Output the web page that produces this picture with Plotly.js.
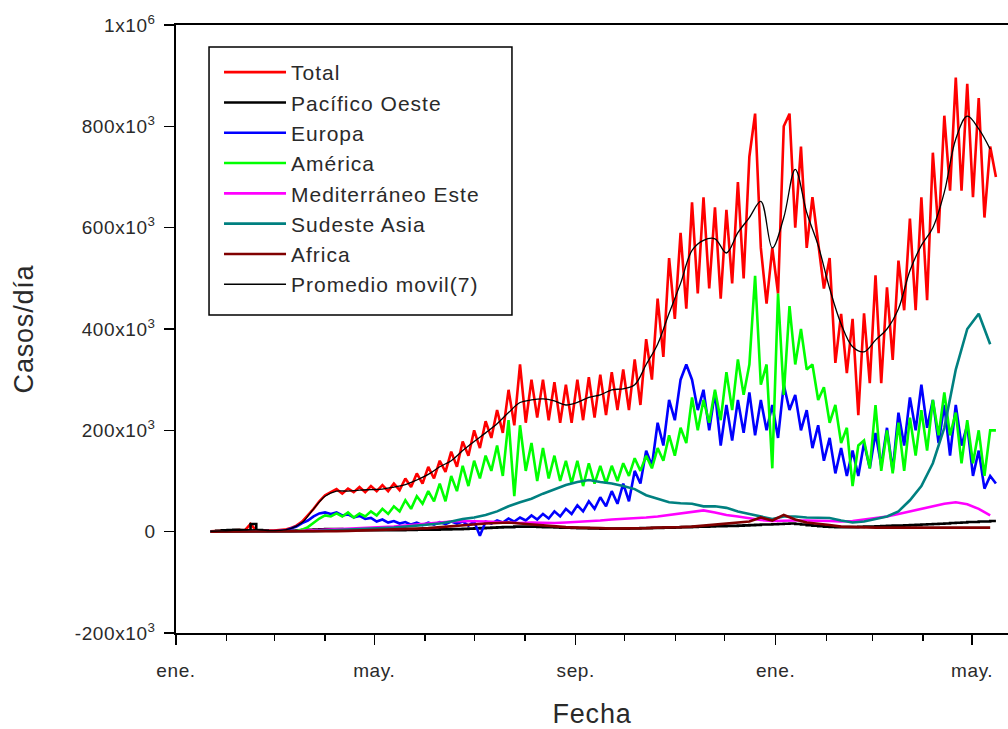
<!DOCTYPE html>
<html lang="es">
<head>
<meta charset="UTF-8">
<title>Casos/día por región OMS</title>
<script src="https://cdn.plot.ly/plotly-3.0.1.min.js"></script>
<style>
  html, body { margin: 0; padding: 0; background: #fff; }
  #plot { width: 1008px; height: 729px; }
  #plot .legendtext { letter-spacing: 1px; }
  #plot .legend .scrollbox { clip-path: none !important; }
  #plot .xtick text, #plot .ytick text { letter-spacing: 0.6px; }
  #plot .g-xtitle text, #plot .g-ytitle text { letter-spacing: 0.8px; }
</style>
</head>
<body>
<div id="plot"></div>
<script>
// values in thousands of cases per day
// half-week samples (every 3.5 days starting 22 Jan 2020)
const total = [
  0.6, 1, 2, 3, 3, 3, 2.5, 15, 2, 1.5,
  2, 2, 3, 4, 7, 12, 20, 32, 45, 60,
  72, 78, 84, 75, 85, 78, 88, 78, 90, 80,
  92, 80, 95, 82, 105, 88, 115, 95, 128, 105,
  140, 118, 158, 128, 178, 150, 200, 165, 218, 185,
  240, 195, 280, 210, 330, 215, 300, 225, 300, 220,
  295, 215, 290, 215, 300, 220, 305, 225, 310, 230,
  315, 240, 320, 240, 340, 250, 380, 300, 460, 345,
  540, 420, 590, 440, 650, 470, 660, 480, 640, 460,
  635, 490, 690, 500, 740, 825, 560, 450, 560, 470,
  800, 825, 600, 760, 560, 660, 575, 480, 540, 333,
  430, 313, 420, 230, 431, 293, 506, 293, 482, 339,
  535, 437, 618, 437, 660, 457, 748, 589, 821, 673,
  896, 673, 884, 660, 856, 620, 760, 700
];
const pacificoOeste = [
  0.5, 1.5, 2.5, 3, 3.5, 3, 2.5, 15, 3, 2,
  1, 1, 1, 1.5, 2, 2.5, 3, 3.5, 4, 4.5,
  5, 5, 5, 4.5, 4, 3.5, 3, 3, 3, 3,
  3, 3, 3, 3, 3.5, 3.5, 4, 4, 4, 4,
  4.5, 4.5, 5, 5, 5.5, 6, 6.5, 7, 7.5, 8,
  8.5, 9, 9, 10, 10, 10, 10, 9.5, 9, 9,
  8.5, 8, 8, 7.5, 7, 7, 6.5, 6.5, 6, 6,
  6, 6, 6, 6.5, 6.5, 7, 7, 7.5, 7.5, 8,
  8, 8.5, 9, 9, 9.5, 10, 10, 10.5, 11, 11,
  11.5, 11.5, 12, 12.5, 13, 13.5, 14, 14, 14.5, 15,
  15.5, 16, 15, 14, 13, 12, 11, 10, 9.5, 9,
  9, 9, 9, 9.5, 10, 10, 10.5, 11, 11.5, 12,
  12, 12.5, 13, 13.5, 14, 14.5, 15, 15.5, 16, 17,
  17.5, 18, 19, 19, 20, 20, 21, 21
];
const europa = [
  0, 0, 0, 0, 0, 0, 0, 0, 0, 0,
  0, 0.5, 1, 2, 6, 10, 17, 22, 30, 36,
  38, 35, 38, 32, 34, 28, 31, 25, 27, 20,
  24, 18, 21, 16, 19, 14, 18, 13, 18, 14,
  19, 15, 20, 16, 20, 12, 20, -8, 20, 16,
  22, 18, 26, 20, 28, 22, 32, 24, 35, 26,
  40, 30, 45, 35, 52, 40, 60, 45, 68, 50,
  80, 55, 95, 60, 120, 95, 160, 130, 215, 170,
  260, 220, 300, 330, 300, 240, 280, 200, 275, 170,
  250, 180, 260, 195, 275, 190, 260, 200, 250, 185,
  290, 240, 270, 200, 240, 165, 210, 140, 185, 115,
  165, 110, 160, 110, 175, 125, 195, 130, 205, 120,
  235, 170, 265, 200, 290, 205, 260, 175, 250, 150,
  250, 170, 210, 110, 160, 85, 110, 95
];
const america = [
  0, 0, 0, 0, 0, 0, 0, 0, 0, 0,
  0, 0, 0, 0.2, 0.5, 1.5, 4, 9, 17, 26,
  32, 30, 36, 30, 38, 28, 36, 30, 40, 32,
  45, 35, 50, 40, 62, 45, 70, 55, 80, 60,
  95, 60, 110, 80, 130, 90, 140, 105, 150, 120,
  170, 110, 220, 70, 210, 120, 175, 100, 165, 105,
  150, 100, 140, 95, 140, 90, 135, 95, 130, 95,
  130, 100, 135, 110, 145, 120, 150, 125, 165, 140,
  190, 150, 205, 175, 265, 200, 260, 215, 280, 220,
  315, 240, 340, 270, 330, 505, 290, 330, 125, 470,
  270, 445, 330, 400, 320, 330, 260, 285, 215, 250,
  175, 205, 90, 170, 180, 125, 250, 120, 200, 115,
  215, 120, 225, 150, 240, 160, 260, 190, 275, 190,
  235, 135, 220, 135, 200, 110, 200, 200
];

// weekly samples (every 7 days starting 22 Jan 2020)
const mediterraneo = [
  0, 0, 0, 0, 0, 0, 0.5, 1, 1.5, 2.5,
  3.5, 4.5, 5, 5.5, 6.5, 8, 10, 12, 14, 17,
  19, 20, 21, 21, 20, 19, 18, 17, 18, 17,
  17, 18, 19, 20, 22, 24, 25, 26, 28, 30,
  33, 37, 40, 42, 38, 33, 30, 26, 23, 21,
  22, 22, 22, 22, 21, 20, 21, 24, 27, 30,
  35, 40, 45, 50, 55, 58, 54, 45, 32
];
const sudesteAsia = [
  0, 0, 0, 0, 0, 0, 0, 0.2, 0.5, 1,
  2, 3, 4, 4, 5, 6, 8, 10, 12, 14,
  16, 20, 25, 28, 33, 40, 50, 58, 65, 75,
  83, 92, 98, 102, 98, 95, 90, 84, 72, 65,
  58, 56, 55, 50, 50, 47, 40, 35, 30, 25,
  30, 30, 28, 28, 27, 22, 18, 20, 25, 30,
  40, 62, 90, 135, 205, 320, 400, 430, 370
];
const africa = [
  0, 0, 0, 0, 0, 0, 0, 0, 0, 0.5,
  1, 1, 1.5, 2, 2.5, 3, 4, 5, 6, 7,
  9, 11, 13, 15, 16, 17, 18, 16, 14, 12,
  10, 9, 8, 8, 7, 6, 6, 6, 7, 8,
  8, 9, 10, 12, 13, 15, 18, 20, 28, 22,
  33, 24, 18, 16, 13, 10, 9, 8, 8, 8,
  8, 8, 8, 8, 8, 8, 8, 8, 8
];
const promedioMovil = [
  0.5, 1.5, 2.5, 3, 4, 2, 2.5, 6, 18, 45,
  70, 80, 80, 82, 83, 84, 88, 93, 102, 113,
  128, 140, 160, 178, 195, 213, 235, 255, 260, 262,
  258, 250, 255, 265, 270, 280, 282, 290, 330, 370,
  431, 490, 555, 575, 578, 550, 590, 620, 652, 560,
  620, 715, 630, 565, 480, 410, 365, 355, 378, 400,
  440, 515, 565, 600, 670, 775, 820, 795, 755
];

const seriesNames = ['Total', 'Pacífico Oeste', 'Europa', 'América',
  'Mediterráneo Este', 'Sudeste Asia', 'Africa', 'Promedio movil(7)'];
const xTickDates = ['2020-01-01', '2020-05-01', '2020-09-01', '2021-01-01', '2021-05-01'];
const xTickText = ['ene.', 'may.', 'sep.', 'ene.', 'may.'];
const yTickVals = [-200, 0, 200, 400, 600, 800, 1000];
const yTickText = ['-200x10<sup>3</sup>', '0', '200x10<sup>3</sup>', '400x10<sup>3</sup>',
  '600x10<sup>3</sup>', '800x10<sup>3</sup>', '1x10<sup>6</sup>'];

function dates(n, stepDays) {
  const t0 = Date.UTC(2020, 0, 22);
  const out = [];
  for (let i = 0; i < n; i++) {
    out.push(new Date(t0 + i * stepDays * 864e5).toISOString().slice(0, 19).replace('T', ' '));
  }
  return out;
}

function monthStarts() {
  const out = [];
  for (let m = 0; m < 18; m++) {
    out.push(new Date(Date.UTC(2020, m, 1)).toISOString().slice(0, 10));
  }
  return out;
}

const half = dates(total.length, 3.5);
const week = dates(promedioMovil.length, 7);

function line(x, y, name, color, width, shape) {
  return {
    x: x, y: y, name: name, type: 'scatter', mode: 'lines',
    line: { color: color, width: width, shape: shape },
    hoverinfo: 'skip'
  };
}

const traces = [
  line(half, total, seriesNames[0], '#ff0000', 2.6, 'linear'),
  line(half, pacificoOeste, seriesNames[1], '#000000', 2.6, 'hv'),
  line(half, europa, seriesNames[2], '#0000ff', 2.6, 'linear'),
  line(half, america, seriesNames[3], '#00ff00', 2.6, 'linear'),
  line(week, mediterraneo, seriesNames[4], '#ff00ff', 2.6, 'linear'),
  line(week, sudesteAsia, seriesNames[5], '#008080', 2.6, 'linear'),
  line(week, africa, seriesNames[6], '#800000', 2.6, 'linear'),
  line(week, promedioMovil, seriesNames[7], '#000000', 1.3, 'spline')
];

const txt = '#2a2a2a';
const layout = {
  width: 1008,
  height: 729,
  margin: { l: 176, r: 0, t: 25, b: 96 },
  paper_bgcolor: '#ffffff',
  plot_bgcolor: '#ffffff',
  font: { family: 'Liberation Sans, Arial, sans-serif', color: txt },
  showlegend: true,
  legend: {
    x: 0.0517, y: 0.9556, xanchor: 'left', yanchor: 'top',
    bgcolor: 'rgba(0,0,0,0)', borderwidth: 0,
    font: { size: 21, color: txt },
    itemwidth: 62
  },
  // legend frame, drawn as its own box so the padding matches
  shapes: [{
    type: 'rect', xref: 'paper', yref: 'paper',
    x0: 0.0397, x1: 0.4038, y0: 0.523, y1: 0.9638,
    line: { color: '#000', width: 1.5 }, fillcolor: 'rgba(0,0,0,0)', layer: 'above'
  }],
  xaxis: {
    type: 'date',
    range: ['2020-01-01', '2021-05-22 21:00'],
    showgrid: false, zeroline: false,
    showline: true, linecolor: '#000', linewidth: 1.6, mirror: true,
    tickmode: 'array', tickvals: xTickDates, ticktext: xTickText,
    ticks: 'outside', ticklen: 10, tickwidth: 1.4, tickcolor: '#000',
    ticklabelstandoff: 10,
    tickfont: { size: 19, color: txt },
    minor: { tickmode: 'array', tickvals: monthStarts(), ticks: 'outside', ticklen: 6, tickwidth: 1.2, tickcolor: '#000' },
    title: { text: 'Fecha', font: { size: 27, color: txt }, standoff: 29 }
  },
  yaxis: {
    range: [-200, 1000],
    showgrid: false, zeroline: false,
    showline: true, linecolor: '#000', linewidth: 1.6,
    tickmode: 'array', tickvals: yTickVals, ticktext: yTickText,
    ticks: 'outside', ticklen: 10, tickwidth: 1.4, tickcolor: '#000',
    ticklabelstandoff: 5,
    tickfont: { size: 19, color: txt },
    title: { text: 'Casos/día', font: { size: 27, color: txt }, standoff: 38 }
  }
};

Plotly.newPlot('plot', traces, layout, { displayModeBar: false, staticPlot: true });
</script>
</body>
</html>
